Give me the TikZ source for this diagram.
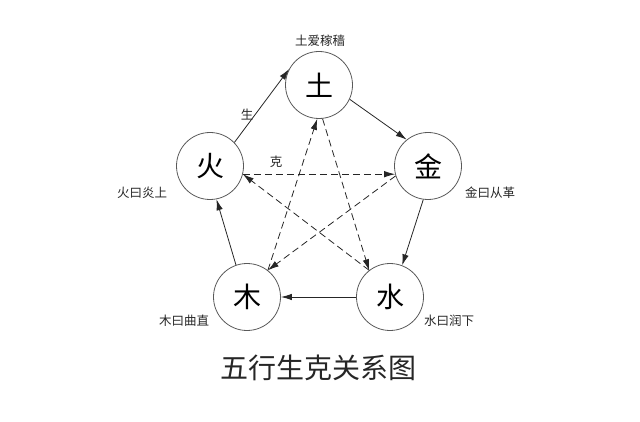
\documentclass[tikz,border=0pt]{standalone}
\usepackage{fontspec}
\setmainfont{Noto Sans CJK SC}
\usetikzlibrary{arrows.meta}
\definecolor{ring}{rgb}{0.35,0.35,0.35}
\definecolor{ink}{rgb}{0.15,0.15,0.15}

\begin{document}
\begin{tikzpicture}[x=1pt, y=-1pt,
		elem/.style={circle, draw=ring, line width=0.8pt, minimum size=67pt, inner sep=0pt, font=\fontsize{28}{28}\selectfont},
		note/.style={font=\fontsize{12.5}{13}\selectfont, text=ink},
		sheng/.style={-{Latex[length=11pt,width=6.5pt]}, line width=0.8pt, draw=ink},
		ke/.style={sheng, dash pattern=on 7pt off 4pt}]
	\useasboundingbox (0,0) rectangle (640,422);

	% The five elements
	\foreach \n/\t/\x/\y in {tu/土/319/85, huo/火/210/166, jin/金/428/166, mu/木/247/297, shui/水/390/297}
	\node[elem] (\n) at (\x,\y) {\t};

	% Sayings next to each element
	\node[note] (tulbl) at (320,41) {土爱稼穑};
	\node[note] (huolbl) at (142,193) {火曰炎上};
	\node[note] (jinlbl) at (490,193) {金曰从革};
	\node[note] (mulbl) at (184,321) {木曰曲直};
	\node[note] (shuilbl) at (449,321) {水曰润下};

	% Cycle names
	\node[note] (shenglbl) at (247,115) {生};
	\node[note] (kelbl) at (276,162) {克};

	% Generating cycle (solid)
	\draw[sheng] (huo.44) -- (tu.152);
	\draw[sheng] (tu.-25) -- (jin.129);
	\draw[sheng] (jin.-98) -- (shui.69);
	\draw[sheng] (shui.west) -- (mu.east);
	\draw[sheng] (mu.109) -- (huo.-79);

	% Overcoming cycle (dashed)
	\draw[ke] (huo.-14) -- (jin.194);
	\draw[ke] (jin.197) -- (mu.52);
	\draw[ke] (mu.52) -- (tu.-93);
	\draw[ke] (tu.-84) -- (shui.128);
	\draw[ke] (shui.128) -- (huo.-14);

	% Title
	\node[font=\fontsize{28}{28}\selectfont, text=ink] (title) at (318,368) {五行生克关系图};
\end{tikzpicture}
\end{document}
